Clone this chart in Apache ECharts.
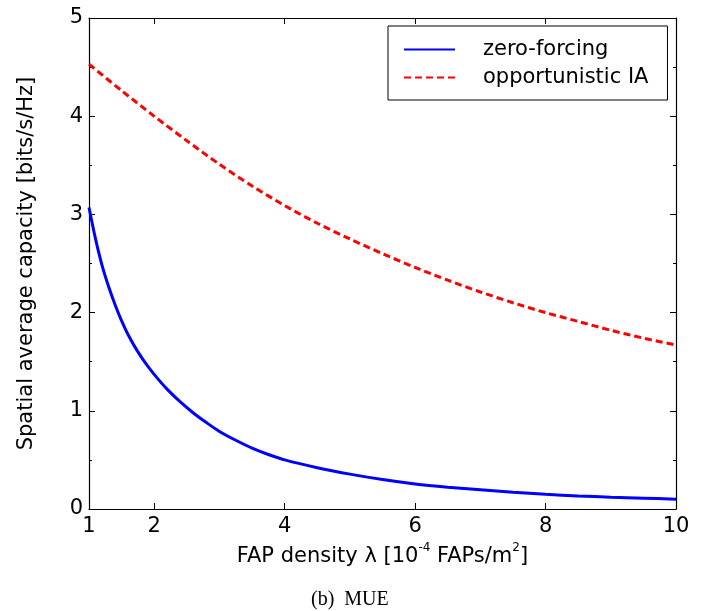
<!DOCTYPE html>
<html>
<head>
<meta charset="utf-8">
<script src="https://cdn.jsdelivr.net/npm/echarts@6/dist/echarts.min.js"></script>
<style>
  html, body { margin: 0; padding: 0; background: #fff; }
  #chart { width: 712px; height: 611px; }
</style>
</head>
<body>
<div id="chart"></div>
<script>
// zero-forcing (blue solid)
var zfX = [1, 1.1, 1.2, 1.3, 1.4, 1.5, 1.6, 1.75, 1.9, 2.05, 2.2, 2.4, 2.6, 2.8, 3, 3.25, 3.5, 3.75, 4, 4.5, 5, 5.5, 6, 6.5, 7, 7.5, 8, 8.5, 9, 9.5, 10];
var zfY = [3.07, 2.75, 2.48, 2.265, 2.08, 1.915, 1.775, 1.60, 1.455, 1.33, 1.218, 1.09, 0.978, 0.88, 0.79, 0.70, 0.62, 0.555, 0.50, 0.42, 0.355, 0.30, 0.255, 0.222, 0.195, 0.17, 0.15, 0.133, 0.12, 0.11, 0.10];
// opportunistic IA (red dashed)
var iaX = [1, 1.5, 2, 2.5, 3, 3.5, 4, 4.5, 5, 5.5, 6, 6.5, 7, 7.5, 8, 8.5, 9, 9.5, 10];
var iaY = [4.53, 4.26, 4.00, 3.75, 3.51, 3.29, 3.09, 2.91, 2.75, 2.60, 2.46, 2.33, 2.21, 2.10, 2.00, 1.91, 1.82, 1.74, 1.67];
var xTickLabels = [1, 2, 4, 6, 8, 10];
var xTicks = [2, 4, 6, 8];

function pairs(xs, ys) {
  return xs.map(function (x, i) { return [x, ys[i]]; });
}

var font = "DejaVu Sans";
var chart = echarts.init(document.getElementById("chart"));

var axisLine = { show: true, onZero: false, lineStyle: { color: "#000", width: 1.2 } };

chart.setOption({
  animation: false,
  grid: { left: 89, right: 36, top: 18, bottom: 102 },
  legend: {
    orient: "vertical",
    left: 388,
    top: 26,
    padding: [13, 19, 12, 15],
    itemGap: 7,
    itemWidth: 51,
    itemHeight: 21,
    borderColor: "#000",
    borderWidth: 1,
    itemStyle: { opacity: 0 },
    textStyle: { fontFamily: font, fontSize: 21, color: "#000", padding: [0, 0, 0, 23] },
    data: ["zero-forcing", "opportunistic IA"]
  },
  xAxis: [
    {
      type: "value",
      min: 1,
      max: 10,
      position: "bottom",
      axisLine: axisLine,
      axisTick: { inside: true, length: 6, customValues: xTicks, lineStyle: { color: "#000" } },
      axisLabel: { customValues: xTickLabels, fontFamily: font, fontSize: 21, color: "#000", margin: 7 },
      splitLine: { show: false },
      name: "{a|FAP density λ [10}{s|-4}{a| FAPs/m}{s|2}{a|]}",
      nameLocation: "middle",
      nameGap: 29,
      nameTextStyle: {
        rich: {
          a: { fontFamily: font, fontSize: 21, color: "#000", lineHeight: 25, verticalAlign: "bottom" },
          s: { fontFamily: font, fontSize: 12, color: "#000", lineHeight: 25, verticalAlign: "top" }
        }
      }
    },
    {
      type: "value",
      min: 1,
      max: 10,
      position: "top",
      axisLine: axisLine,
      axisTick: { inside: true, length: 6, customValues: xTicks, lineStyle: { color: "#000" } },
      axisLabel: { show: false },
      splitLine: { show: false }
    }
  ],
  yAxis: [
    {
      type: "value",
      min: 0,
      max: 5,
      interval: 1,
      position: "left",
      axisLine: axisLine,
      axisTick: { inside: true, length: 6, lineStyle: { color: "#000" } },
      minorTick: { show: true, splitNumber: 2, length: 3, lineStyle: { color: "#000" } },
      axisLabel: { fontFamily: font, fontSize: 21, color: "#000", margin: 6 },
      splitLine: { show: false },
      name: "Spatial average capacity [bits/s/Hz]",
      nameLocation: "middle",
      nameGap: 52,
      nameTextStyle: { fontFamily: font, fontSize: 21, color: "#000" }
    },
    {
      type: "value",
      min: 0,
      max: 5,
      interval: 1,
      position: "right",
      axisLine: axisLine,
      axisTick: { inside: true, length: 6, lineStyle: { color: "#000" } },
      minorTick: { show: true, splitNumber: 2, length: 3, lineStyle: { color: "#000" } },
      axisLabel: { show: false },
      splitLine: { show: false }
    }
  ],
  series: [
    {
      name: "zero-forcing",
      type: "line",
      smooth: 0.3,
      symbol: "none",
      color: "#0000ff",
      lineStyle: { color: "#0000ff", width: 3 },
      data: pairs(zfX, zfY)
    },
    {
      name: "opportunistic IA",
      type: "line",
      smooth: 0.3,
      symbol: "none",
      color: "#ff0000",
      lineStyle: { color: "#ff0000", width: 3, type: [7, 4] },
      data: pairs(iaX, iaY)
    }
  ],
  graphic: [
    {
      type: "text",
      left: 311,
      top: 590,
      style: { text: "(b)  MUE", fontFamily: "Liberation Serif", fontSize: 20, fill: "#000" }
    }
  ]
});
</script>
</body>
</html>
